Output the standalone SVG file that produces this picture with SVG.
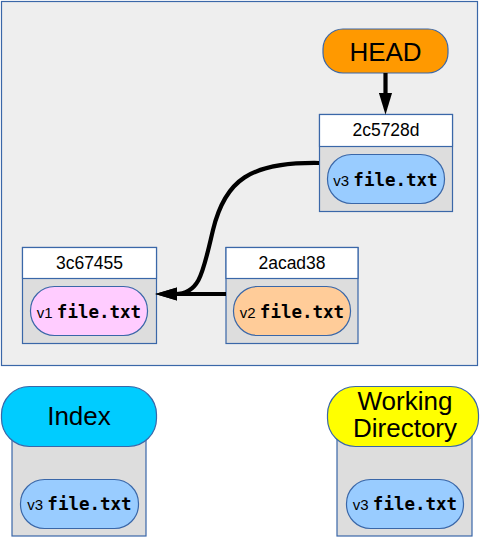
<svg xmlns="http://www.w3.org/2000/svg" width="483" height="537" viewBox="0 0 483 537">
<style>
.frame{fill:#eeeeee;stroke:#3a67a8;stroke-width:1.2}
.hdr{fill:#ffffff;stroke:#3a67a8;stroke-width:1.2}
.body{fill:#dddddd;stroke:#3a67a8;stroke-width:1.2}
.pill{stroke:#3a67a8;stroke-width:1.2}
.lbl{font-family:"Liberation Sans",Arial,sans-serif;fill:#000;text-anchor:middle}
.big{font-size:26px}
.hash{font-size:17.5px}
.ver{font-family:"Liberation Sans",Arial,sans-serif;font-size:15px}
.fn{font-family:"DejaVu Sans Mono",monospace;font-weight:bold;font-size:17.5px}
.conn{fill:none;stroke:#000;stroke-width:4.2}
</style>
<defs>
<marker id="ah" markerUnits="userSpaceOnUse" markerWidth="22" markerHeight="14" refX="2" refY="6" orient="auto" viewBox="0 0 20 12">
<path d="M0,0 L20,6 L0,12 z" fill="#000"/>
</marker>
</defs>
<rect class="frame" x="1.5" y="1.5" width="476" height="364"/>

<g id="head">
<rect class="pill" x="323" y="29" width="125" height="44" rx="20" fill="#ff9900"/>
<text class="lbl big" x="385.5" y="60.5">HEAD</text>
</g>

<g id="c2c5728d">
<rect class="body" x="319.5" y="114.5" width="133" height="97"/>
<rect class="hdr" x="319.5" y="114.5" width="133" height="32"/>
<text class="lbl hash" x="386" y="136">2c5728d</text>
<rect class="pill" x="327.5" y="154.5" width="117" height="49" rx="24" fill="#99ccff"/>
<text class="lbl" x="385.5" y="185.5"><tspan class="ver">v3 </tspan><tspan class="fn">file.txt</tspan></text>
</g>

<g id="c3c67455">
<rect class="body" x="22.5" y="247.5" width="134" height="96"/>
<rect class="hdr" x="22.5" y="247.5" width="134" height="31"/>
<text class="lbl hash" x="89.5" y="268.5">3c67455</text>
<rect class="pill" x="30.5" y="286.5" width="117" height="49" rx="24" fill="#ffccff"/>
<text class="lbl" x="89" y="317.5"><tspan class="ver">v1 </tspan><tspan class="fn">file.txt</tspan></text>
</g>

<g id="c2acad38">
<rect class="body" x="226" y="247.5" width="132" height="96"/>
<rect class="hdr" x="226" y="247.5" width="132" height="31"/>
<text class="lbl hash" x="292" y="268.5">2acad38</text>
<rect class="pill" x="233.5" y="286.5" width="117" height="49" rx="24" fill="#ffcc99"/>
<text class="lbl" x="292" y="317.5"><tspan class="ver">v2 </tspan><tspan class="fn">file.txt</tspan></text>
</g>

<g id="index">
<rect class="body" x="12" y="420" width="134" height="116"/>
<rect class="pill" x="1.5" y="386.5" width="155" height="60" rx="28" fill="#00ccff"/>
<text class="lbl big" x="79" y="425">Index</text>
<rect class="pill" x="20.5" y="479.5" width="118" height="49" rx="24" fill="#99ccff"/>
<text class="lbl" x="79.5" y="509.5"><tspan class="ver">v3 </tspan><tspan class="fn">file.txt</tspan></text>
</g>

<g id="workdir">
<rect class="body" x="337" y="420" width="135" height="116"/>
<rect class="pill" x="327.5" y="386.5" width="151" height="60" rx="28" fill="#ffff00"/>
<text class="lbl big" x="405" y="409.5">Working</text>
<text class="lbl big" x="405" y="437">Directory</text>
<rect class="pill" x="346.5" y="479.5" width="117" height="49" rx="24" fill="#99ccff"/>
<text class="lbl" x="405" y="509.5"><tspan class="ver">v3 </tspan><tspan class="fn">file.txt</tspan></text>
</g>

<g id="connectors">
<path class="conn" d="M385.5,73 L385.5,95" marker-end="url(#ah)"/>
<path class="conn" d="M226,294 L175,294" marker-end="url(#ah)"/>
<path class="conn" d="M319,163 C250,162 225,180 213,230 C203,272 200,294 175,294" marker-end="url(#ah)"/>
</g>
</svg>
